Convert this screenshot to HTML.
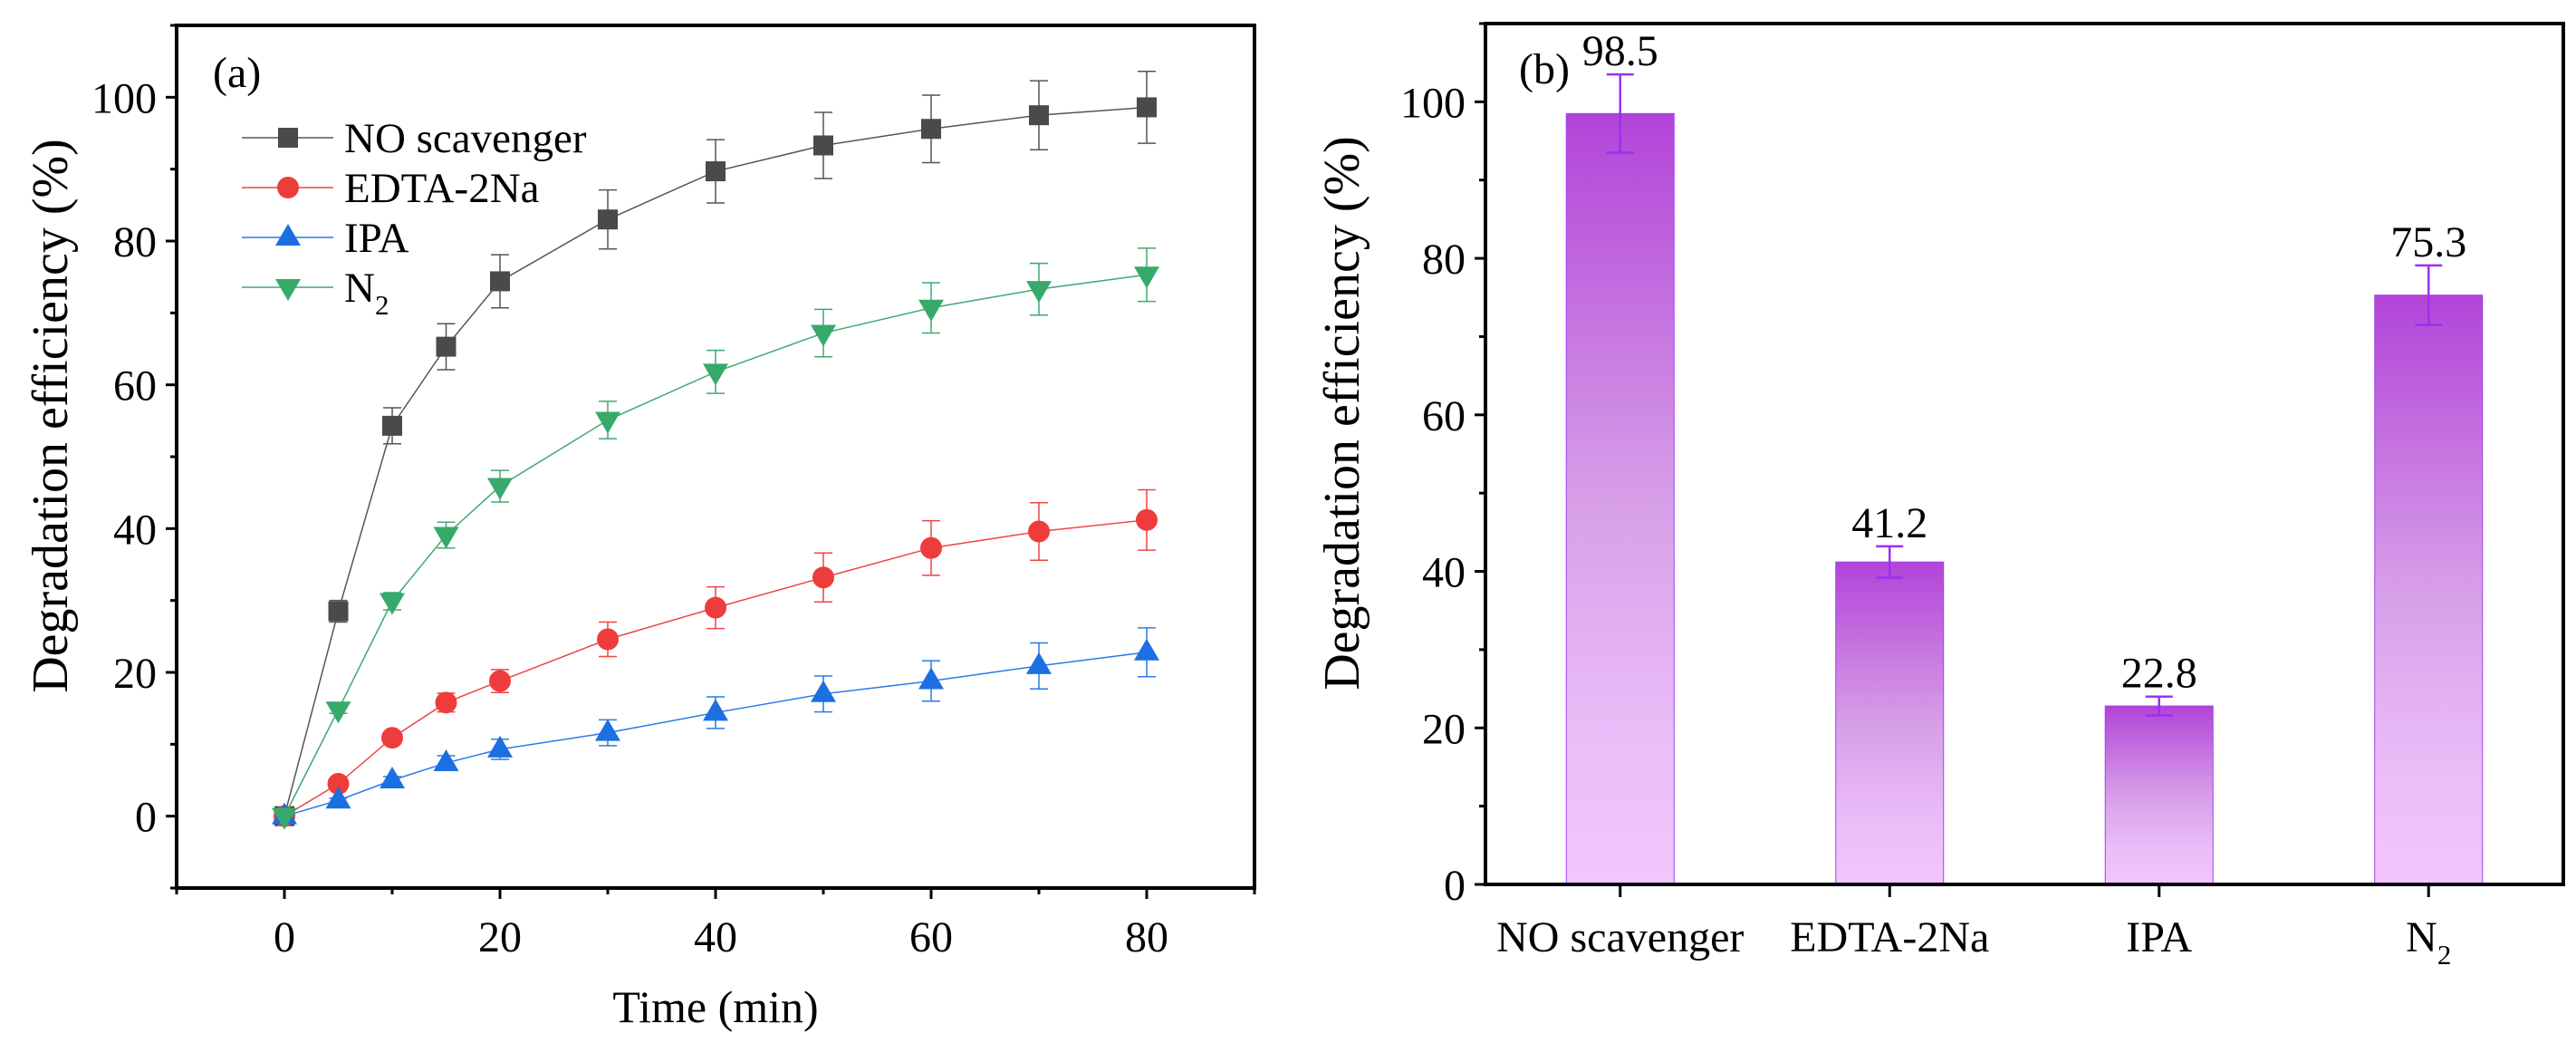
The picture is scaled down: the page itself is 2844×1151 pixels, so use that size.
<!DOCTYPE html>
<html><head><meta charset="utf-8"><style>
html,body{margin:0;padding:0;background:#fff}
svg{display:block}
text{font-family:"Liberation Serif",serif;fill:#000}
</style></head><body>
<svg id="c" width="2844" height="1151" viewBox="0 0 2844 1151">
<defs>
<linearGradient id="bg" x1="0" y1="0" x2="0" y2="1">
<stop offset="0" stop-color="#b244d8"/><stop offset="0.5" stop-color="#d79ee8"/><stop offset="0.8" stop-color="#ebbcf8"/><stop offset="1" stop-color="#f2c6fc"/>
</linearGradient>
</defs>
<g id="pa"></g>
<g id="pb"></g>
</svg>
<script>
const times=[0,5,10,15,20,30,40,50,60,70,80];
const seriesNames=["NO scavenger","EDTA-2Na","IPA","N2"];
const noScav=[0,28.5,54.3,65.3,74.4,83,89.7,93.3,95.6,97.5,98.6];
const noScavErr=[0,1.5,2.5,3.2,3.7,4.1,4.4,4.6,4.7,4.8,5];
const edta=[0,4.5,10.9,15.8,18.8,24.6,29,33.2,37.3,39.6,41.2];
const edtaErr=[0,0.5,0.8,1.3,1.6,2.4,2.9,3.4,3.8,4,4.2];
const ipa=[0,2.2,5,7.4,9.3,11.6,14.4,17,18.8,20.9,22.8];
const ipaErr=[0,0.3,0.5,1,1.4,1.8,2.2,2.5,2.8,3.2,3.4];
const n2=[0,14.8,29.9,39.1,45.9,55.1,61.8,67.2,70.7,73.3,75.3];
const n2Err=[0,0.5,1.2,1.8,2.2,2.6,3,3.3,3.5,3.6,3.7];
const xTicksA=[0,20,40,60,80];
const yTicksA=[0,20,40,60,80,100];
const barCats=["NO scavenger","EDTA-2Na","IPA","N2"];
const barVals=[98.5,41.2,22.8,75.3];
const barErr=[5,2,1.2,3.8];
const yTicksB=[0,20,40,60,80,100];

const NS="http://www.w3.org/2000/svg";
function mk(p,t,a){const e=document.createElementNS(NS,t);for(const k in a)e.setAttribute(k,a[k]);p.appendChild(e);return e;}
const pa=document.getElementById('pa'),pb=document.getElementById('pb');

// Panel A
const A={l:195,r:1385,t:28,b:980,x0:-10,x1:90,y0:-10,y1:110};
const ax=v=>A.l+(v-A.x0)/(A.x1-A.x0)*(A.r-A.l);
const ay=v=>A.b-(v-A.y0)/(A.y1-A.y0)*(A.b-A.t);
let f=mk(pa,'rect',{x:A.l,y:A.t,width:A.r-A.l,height:A.b-A.t,fill:'none',stroke:'#000','stroke-width':4});

for(let v=-10;v<=110;v+=10){const maj=v%20===0;let t=mk(pa,'line',{x1:A.l-(maj?12:7),x2:A.l,y1:ay(v),y2:ay(v),stroke:'#000','stroke-width':3});
}
for(let v=-10;v<=90;v+=10){const maj=v%20===0;let t=mk(pa,'line',{x1:ax(v),x2:ax(v),y1:A.b,y2:A.b+(maj?12:7),stroke:'#000','stroke-width':3});
}
yTicksA.forEach(v=>{let t=mk(pa,'text',{x:A.l-22,y:ay(v)+17,'text-anchor':'end','font-size':48});t.textContent=v;
});
xTicksA.forEach(v=>{let t=mk(pa,'text',{x:ax(v),y:A.b+70,'text-anchor':'middle','font-size':48});t.textContent=v;
});
let xt=mk(pa,'text',{x:(A.l+A.r)/2,y:1128,'text-anchor':'middle','font-size':50});xt.textContent='Time (min)';

let yt=mk(pa,'text',{x:0,y:0,'text-anchor':'middle','font-size':56,transform:`translate(74,${(A.t+A.b)/2-45}) rotate(-90)`});yt.textContent='Degradation efficiency (%)';

let la=mk(pa,'text',{x:235,y:96,'font-size':48});la.textContent='(a)';


const colors=['#4a4a4a','#ee3c3c','#1c6fe0','#37aa6b'];
const lineCols=['#555','#ee4444','#2a7ae8','#40a870'];
const shapes=['sq','ci','tu','td'];
function marker(p,s,x,y,c){
  if(s==='sq')return mk(p,'rect',{x:x-11,y:y-11,width:22,height:22,fill:c});
  if(s==='ci')return mk(p,'circle',{cx:x,cy:y,r:12,fill:c});
  if(s==='tu')return mk(p,'polygon',{points:`${x},${y-15} ${x-14},${y+9} ${x+14},${y+9}`,fill:c});
  return mk(p,'polygon',{points:`${x},${y+15} ${x-14},${y-9} ${x+14},${y-9}`,fill:c});
}
const allS=[noScav,edta,ipa,n2],allE=[noScavErr,edtaErr,ipaErr,n2Err];
allS.forEach((vals,si)=>{
  const g=mk(pa,'g',{});
  vals.forEach((v,i)=>{const e=allE[si][i];if(e<=0)return;const x=ax(times[i]);
    let eb=mk(g,'path',{d:`M${x},${ay(v+e)}V${ay(v-e)}M${x-10},${ay(v+e)}H${x+10}M${x-10},${ay(v-e)}H${x+10}`,stroke:lineCols[si],'stroke-width':1.5,fill:'none'});
    });
  let ln=mk(g,'polyline',{points:vals.map((v,i)=>ax(times[i])+','+ay(v)).join(' '),fill:'none',stroke:lineCols[si],'stroke-width':1.5});
  
  vals.forEach((v,i)=>{let m=marker(g,shapes[si],ax(times[i]),ay(v),colors[si]);
    });
});
const legY=[152,207,262,317];
seriesNames.forEach((n,i)=>{
  const g=mk(pa,'g',{});
  mk(g,'line',{x1:267,x2:368,y1:legY[i],y2:legY[i],stroke:lineCols[i],'stroke-width':1.5});
  marker(g,shapes[i],318,legY[i],colors[i]);
  const t=mk(g,'text',{x:380,y:legY[i]+16,'font-size':47});
  if(n==='N2'){t.textContent='N';const s=mk(t,'tspan',{dy:14,'font-size':31});s.textContent='2';}else t.textContent=n;
});

// Panel B
const B={l:1640,r:2830,t:26,b:976,y0:0,y1:110};
const bx=i=>B.l+(i+0.5)/barCats.length*(B.r-B.l);
const by=v=>B.b-(v-B.y0)/(B.y1-B.y0)*(B.b-B.t);
const bw=119;
barVals.forEach((v,i)=>{
  let r=mk(pb,'rect',{x:bx(i)-bw/2,y:by(v),width:bw,height:B.b-by(v),fill:'url(#bg)',stroke:'#a040f0','stroke-width':1});
  
  const x=bx(i),e=barErr[i];
  let eb=mk(pb,'path',{d:`M${x},${by(v+e)}V${by(v-e)}M${x-15},${by(v+e)}H${x+15}M${x-15},${by(v-e)}H${x+15}`,stroke:'#9a30f0','stroke-width':2.5,fill:'none'});
  
  let t=mk(pb,'text',{x:x,y:by(v+e)-10,'text-anchor':'middle','font-size':48});t.textContent=v.toFixed(1);
  
  let c=mk(pb,'text',{x:x,y:B.b+74,'text-anchor':'middle','font-size':48});
  if(barCats[i]==='N2'){c.textContent='N';const s=mk(c,'tspan',{dy:14,'font-size':31});s.textContent='2';}else c.textContent=barCats[i];
  
  let tk=mk(pb,'line',{x1:x,x2:x,y1:B.b,y2:B.b+14,stroke:'#000','stroke-width':3});
  
});
let fb=mk(pb,'rect',{x:B.l,y:B.t,width:B.r-B.l,height:B.b-B.t,fill:'none',stroke:'#000','stroke-width':4});

for(let v=0;v<=110;v+=10){const maj=v%20===0;let t=mk(pb,'line',{x1:B.l-(maj?12:7),x2:B.l,y1:by(v),y2:by(v),stroke:'#000','stroke-width':3});
}
yTicksB.forEach(v=>{let t=mk(pb,'text',{x:B.l-22,y:by(v)+17,'text-anchor':'end','font-size':48});t.textContent=v;
});
let yt2=mk(pb,'text',{x:0,y:0,'text-anchor':'middle','font-size':56,transform:`translate(1500,${(B.t+B.b)/2-45}) rotate(-90)`});yt2.textContent='Degradation efficiency (%)';

let lb=mk(pb,'text',{x:1677,y:92,'font-size':48});lb.textContent='(b)';

</script>
</body></html>
